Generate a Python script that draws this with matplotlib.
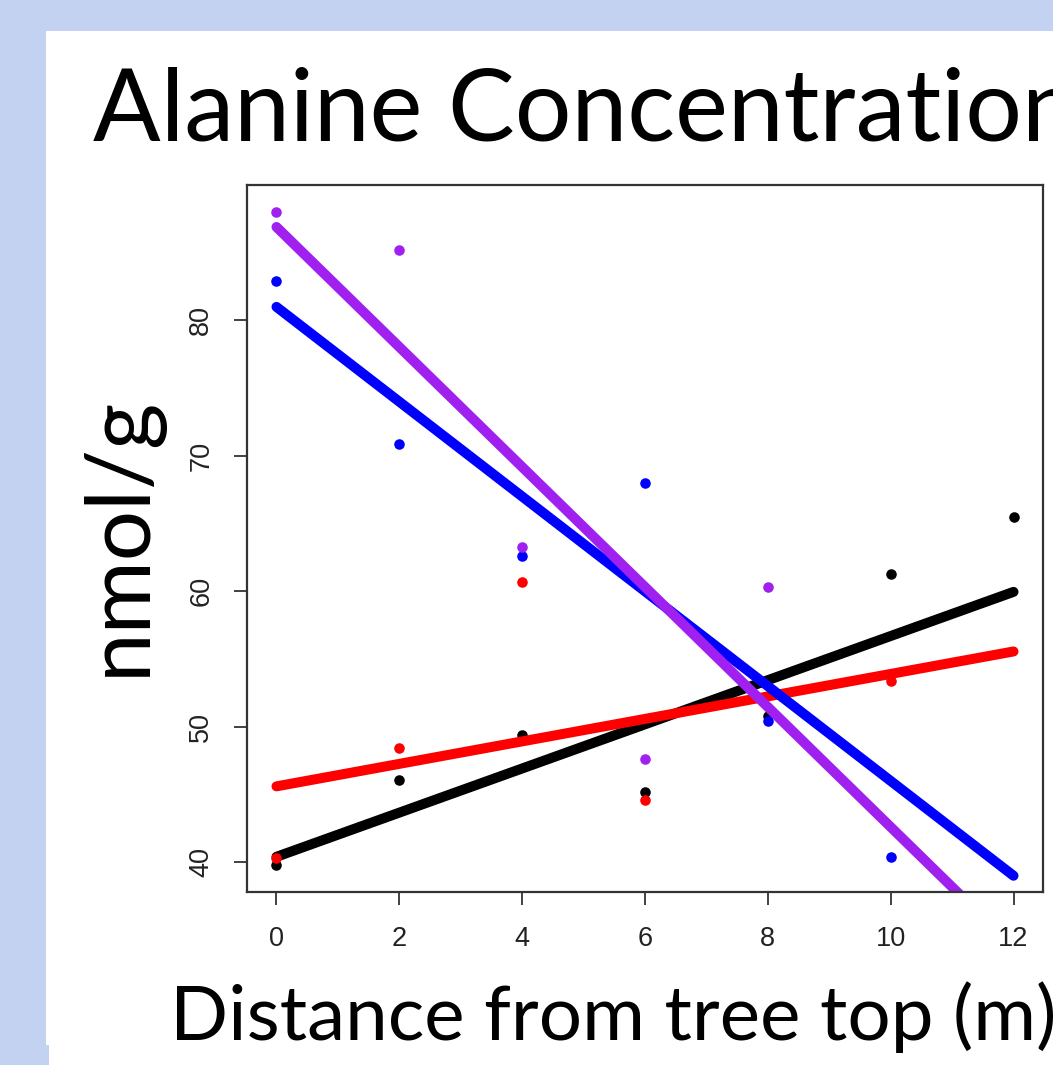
import numpy as np
import matplotlib.pyplot as plt
from matplotlib.patches import Rectangle

# Measured points (distance from tree top in m, nmol/g)
black_x = [0, 2, 4, 6, 8, 10, 12]
black_y = [39.8, 46.1, 49.4, 45.2, 50.8, 61.3, 65.5]
red_x = [0, 2, 4, 6, 10]
red_y = [40.3, 48.4, 60.7, 44.6, 53.4]
blue_x = [0, 2, 4, 6, 8, 10]
blue_y = [82.9, 70.9, 62.6, 68.0, 50.4, 40.4]
purple_x = [0, 2, 4, 6, 8]
purple_y = [88.0, 85.2, 63.3, 47.6, 60.3]

# Fitted lines (intercept, slope)
black_fit = (40.4, 1.63)
red_fit = (45.6, 0.83)
blue_fit = (81.0, -3.50)
purple_fit = (86.9, -4.43)

x_ticks = [0, 2, 4, 6, 8, 10, 12]
y_ticks = [40, 50, 60, 70, 80]

W, H = 1053, 1065
fig = plt.figure(figsize=(W / 100, H / 100), dpi=100)
fig.patch.set_facecolor('#c2d2f0')

# white slide panel
fig.add_artist(Rectangle((49 / W, 0), 1, 1 - 31 / H, transform=fig.transFigure,
                         facecolor='white', edgecolor='none', zorder=0))
fig.add_artist(Rectangle((46 / W, 20 / H), 10 / W, 1 - 51 / H, transform=fig.transFigure,
                         facecolor='white', edgecolor='none', zorder=0))

ax = fig.add_axes([247 / W, 1 - 892 / H, (1043 - 247) / W, (892 - 185) / H])
ax.set_zorder(2)

series = [
    (black_x, black_y, black_fit, 'black'),
    (red_x, red_y, red_fit, '#ff0000'),
    (blue_x, blue_y, blue_fit, '#0000ff'),
    (purple_x, purple_y, purple_fit, '#a020f0'),
]
xl = np.array([0, 12])
for xs, ys, (b0, b1), col in series:
    ax.plot(xs, ys, 'o', color=col, markersize=7.6, markeredgewidth=0)
    ax.plot(xl, b0 + b1 * xl, color=col, linewidth=7.2, solid_capstyle='round')

ax.set_xlim(-0.48, 12.48)
ax.set_ylim(37.8, 90.0)
ax.set_xticks(x_ticks)
ax.set_yticks(y_ticks)
ax.tick_params(direction='out', length=9.5, width=1.3, color='#333333',
               labelsize=19.5, labelcolor='#222222')
ax.tick_params(axis='x', pad=15)
ax.tick_params(axis='y', pad=14)
for lab in ax.get_yticklabels():
    lab.set_rotation(90)
    lab.set_va('center')
for lab in ax.get_xticklabels() + ax.get_yticklabels():
    lab.set_family('Liberation Sans')
for s in ax.spines.values():
    s.set_linewidth(1.6)
    s.set_color('#333333')

fig.text(93 / W, 1 - 140.5 / H, 'Alanine Concentration', fontsize=72,
         family='Lato', va='baseline', ha='left', color='black')
fig.text(145 / W, 1 - 536 / H, 'nmol/g', fontsize=64, family='Lato',
         rotation=90, va='baseline', ha='center', rotation_mode='anchor',
         color='black')
fig.text(170 / W, 1 - 1040 / H, 'Distance from tree top (m)', fontsize=55,
         family='Lato', va='baseline', ha='left', color='black')

fig.savefig('out.png', dpi=100)
